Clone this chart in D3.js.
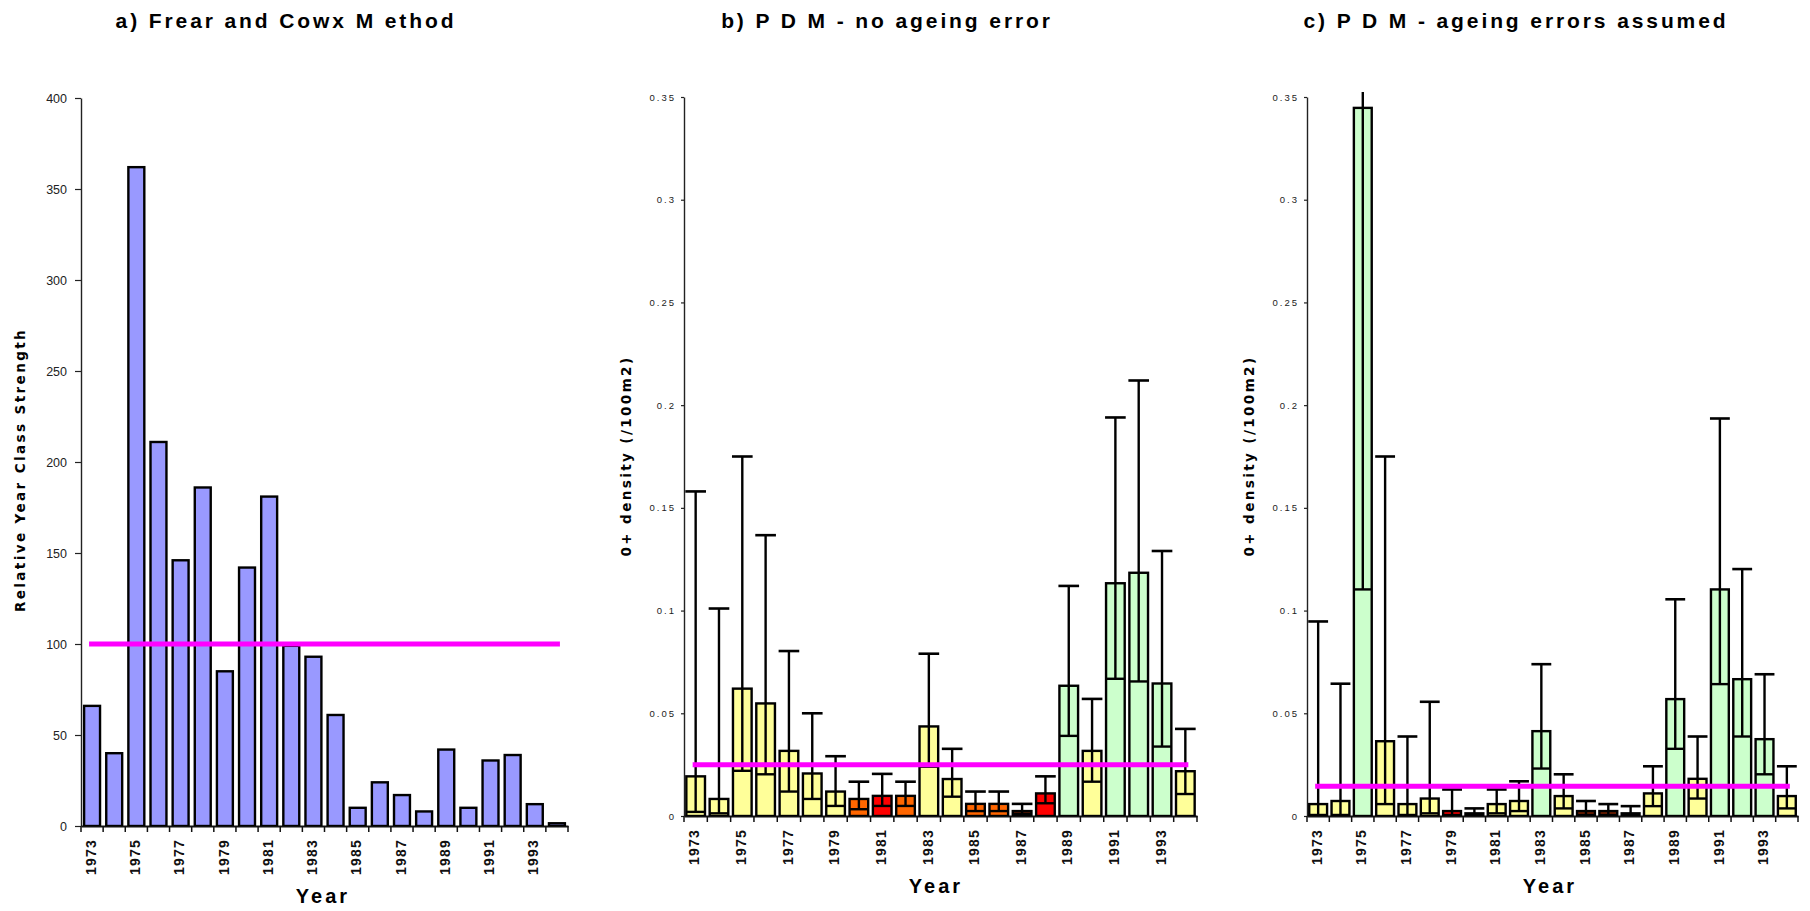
<!DOCTYPE html>
<html>
<head>
<meta charset="utf-8">
<script src="https://cdn.jsdelivr.net/npm/d3@7"></script>
<style>
  body { margin: 0; background: #fff; }
  svg { display: block; }
  .title { font-family: "Liberation Sans", Arial, sans-serif; font-weight: bold; font-size: 21px; letter-spacing: 2.9px; }
  .xlab { font-family: "Liberation Sans", Arial, sans-serif; font-weight: bold; font-size: 20px; letter-spacing: 3px; }
  .ylab { font-family: "DejaVu Sans", sans-serif; font-weight: bold; font-size: 13.5px; letter-spacing: 2.4px; }
  .yr { font-family: "Liberation Sans", Arial, sans-serif; font-weight: bold; font-size: 14px; letter-spacing: 1.2px; }
</style>
</head>
<body>
<div id="graph"></div>
<script>
'use strict';

// categories
const years = [1973, 1974, 1975, 1976, 1977, 1978, 1979, 1980, 1981, 1982, 1983,
               1984, 1985, 1986, 1987, 1988, 1989, 1990, 1991, 1992, 1993, 1994];
const yearLabels = [1973, 1975, 1977, 1979, 1981, 1983, 1985, 1987, 1989, 1991, 1993];

// a) Frear and Cowx
const classStrength = [66, 40, 362, 211, 146, 186, 85, 142, 181, 99, 93,
                       61, 10, 24, 17, 8, 42, 10, 36, 39, 12, 1.5];
const classMean = 100;
const ticksA = [0, 50, 100, 150, 200, 250, 300, 350, 400];

// b) PDM - no ageing error
const densB = [0.0193, 0.0083, 0.062, 0.0548, 0.0317, 0.0207, 0.0119, 0.0083, 0.0098, 0.0098, 0.0436,
               0.018, 0.0059, 0.0059, 0.0024, 0.011, 0.0634, 0.0317, 0.1133, 0.1184, 0.0645, 0.0218];
const lowB  = [0.002, 0.0013, 0.022, 0.0203, 0.0119, 0.0083, 0.0049, 0.0033, 0.0049, 0.0049, 0.024,
               0.0094, 0.0024, 0.0024, 0.001, 0.0062, 0.039, 0.0167, 0.0668, 0.0655, 0.0338, 0.0107];
const highB = [0.158, 0.101, 0.175, 0.1367, 0.0803, 0.05, 0.0291, 0.0167, 0.0205, 0.0167, 0.079,
               0.0327, 0.0119, 0.0119, 0.0059, 0.0193, 0.112, 0.057, 0.194, 0.212, 0.129, 0.0424];
const classB = ['Y', 'Y', 'Y', 'Y', 'Y', 'Y', 'Y', 'O', 'R', 'O', 'Y',
                'Y', 'O', 'O', 'D', 'R', 'G', 'Y', 'G', 'G', 'G', 'Y'];
const meanB = 0.025;

// c) PDM - ageing errors assumed
const densC = [0.0058, 0.0073, 0.3447, 0.0364, 0.0058, 0.0085, 0.0024, 0.0013, 0.0058, 0.0073, 0.0413,
               0.0097, 0.0024, 0.0024, 0.0013, 0.011, 0.0569, 0.0181, 0.1103, 0.0666, 0.0374, 0.0097];
const lowC  = [0.0005, 0.0005, 0.1103, 0.0058, 0.0005, 0.0013, 0.0005, 0.0005, 0.0013, 0.0024, 0.0231,
               0.0037, 0.0005, 0.0005, 0.0005, 0.0048, 0.0327, 0.0085, 0.0642, 0.0387, 0.0203, 0.0037];
const highC = [0.0947, 0.0644, 0.38, 0.175, 0.0387, 0.0556, 0.0129, 0.0037, 0.0129, 0.0169, 0.0739,
               0.0203, 0.0073, 0.0058, 0.0048, 0.0242, 0.1055, 0.0387, 0.1935, 0.1202, 0.069, 0.0242];
const classC = ['Y', 'Y', 'G', 'Y', 'Y', 'Y', 'R', 'D', 'Y', 'Y', 'G',
                'Y', 'D', 'D', 'D', 'Y', 'G', 'Y', 'G', 'G', 'G', 'Y'];
const meanC = 0.0145;
const ticksD = [0, 0.05, 0.1, 0.15, 0.2, 0.25, 0.3, 0.35];

const classColors = { G: '#CCFFCC', Y: '#FFFF99', O: '#FF6600', R: '#FF0000', D: '#7A2000' };

const svg = d3.select('#graph').append('svg')
    .attr('width', 1810)
    .attr('height', 911);

function makeLabels(p) {
  svg.append('text').attr('class', 'title')
      .attr('x', p.titleX).attr('y', 28)
      .attr('text-anchor', 'middle')
      .text(p.title);
  svg.append('text').attr('class', 'xlab')
      .attr('x', p.yearX).attr('y', p.yearY)
      .attr('text-anchor', 'middle')
      .text('Year');
  svg.append('text').attr('class', 'ylab')
      .attr('transform', `translate(${p.ylabX}, ${p.ylabY})rotate(-90)`)
      .attr('text-anchor', 'middle')
      .attr('dominant-baseline', 'middle')
      .text(p.ylab);
}

function drawAxes(p) {
  const x = d3.scaleBand().domain(years).range([p.x0, p.x1]).padding(0);
  const y = d3.scaleLinear().domain(p.domain).range([p.y0, p.yTop]);

  // y axis
  const yAxis = d3.axisLeft(y)
      .tickValues(p.ticks)
      .tickSize(p.tickLen)
      .tickSizeOuter(0)
      .tickFormat(p.fmt);
  const gy = svg.append('g')
      .attr('transform', `translate(${p.x0}, 0)`)
      .call(yAxis);
  gy.select('.domain').attr('stroke', '#222').attr('stroke-width', 1.4);
  gy.selectAll('.tick line').attr('stroke', '#222').attr('stroke-width', 1.2);
  gy.selectAll('.tick text')
      .attr('fill', '#222')
      .style('font-family', '"Liberation Sans", Arial, sans-serif')
      .style('font-size', p.tickFont)
      .style('letter-spacing', p.tickSpacing)
      .attr('x', -(p.tickLen + p.tickGap));

  // x axis (labels on odd years, ticks on band edges)
  const xAxis = d3.axisBottom(x)
      .tickValues(yearLabels)
      .tickSize(0)
      .tickSizeOuter(0);
  const gx = svg.append('g')
      .attr('transform', `translate(0, ${p.y0})`)
      .call(xAxis);
  gx.select('.domain').attr('stroke', '#111').attr('stroke-width', 2);
  gx.selectAll('.tick text')
      .attr('class', 'yr')
      .attr('fill', '#111')
      .attr('transform', 'rotate(-90)')
      .attr('text-anchor', 'end')
      .attr('dominant-baseline', 'middle')
      .attr('x', -p.yrGap)
      .attr('y', 0)
      .attr('dy', 0);

  const edges = years.map(d => x(d)).concat([p.x1]);
  svg.append('g').selectAll('line')
      .data(edges)
      .enter()
      .append('line')
      .attr('x1', d => d).attr('x2', d => d)
      .attr('y1', p.y0).attr('y2', p.y0 + 6)
      .attr('stroke', '#111')
      .attr('stroke-width', 1.5);

  return { x: x, y: y };
}

function plotBars(map, p) {
  const x = map.x, y = map.y;
  const bw = x.bandwidth() * p.barFrac;
  const cx = d => x(d) + x.bandwidth() / 2;

  const clipId = 'clip' + p.id;
  svg.append('clipPath').attr('id', clipId)
    .append('rect')
      .attr('x', p.x0).attr('y', p.yTop - 5)
      .attr('width', p.x1 - p.x0).attr('height', p.y0 - p.yTop + 5);

  const g = svg.append('g').attr('clip-path', `url(#${clipId})`);

  g.selectAll('.bar')
      .data(years)
      .enter()
      .append('rect')
      .attr('class', 'bar')
      .attr('x', d => cx(d) - bw / 2)
      .attr('y', (d, i) => y(p.values[i]))
      .attr('width', bw)
      .attr('height', (d, i) => y(0) - y(p.values[i]))
      .attr('fill', (d, i) => p.fill(i))
      .attr('stroke', '#000')
      .attr('stroke-width', 2.4);

  if (p.low) {
    const eb = g.selectAll('.err')
        .data(years)
        .enter()
        .append('g')
        .attr('class', 'err');
    eb.append('line')
        .attr('x1', cx).attr('x2', cx)
        .attr('y1', (d, i) => y(p.low[i]))
        .attr('y2', (d, i) => y(p.high[i]))
        .attr('stroke', '#000').attr('stroke-width', 2.4);
    eb.append('line')
        .attr('x1', d => cx(d) - bw / 2).attr('x2', d => cx(d) + bw / 2)
        .attr('y1', (d, i) => y(p.low[i]))
        .attr('y2', (d, i) => y(p.low[i]))
        .attr('stroke', '#000').attr('stroke-width', 2.4);
    eb.append('line')
        .attr('x1', d => cx(d) - bw / 2 - 1).attr('x2', d => cx(d) + bw / 2 + 1)
        .attr('y1', (d, i) => y(p.high[i]))
        .attr('y2', (d, i) => y(p.high[i]))
        .attr('stroke', '#000').attr('stroke-width', 2.6);
  }

  // mean line
  svg.append('line')
      .attr('x1', cx(years[0]) - 3)
      .attr('x2', cx(years[years.length - 1]) + 3)
      .attr('y1', y(p.mean)).attr('y2', y(p.mean))
      .attr('stroke', '#FF00FF')
      .attr('stroke-width', 5);
}

const fmtD = d => d === 0 ? '0' : String(+d.toFixed(2));

const panels = [
  {
    id: 'a', title: 'a) Frear and Cowx M ethod', titleX: 286,
    ylab: 'Relative Year Class Strength', ylabX: 21, ylabY: 470,
    yearX: 323, yearY: 903,
    x0: 81, x1: 568, y0: 826, yTop: 98, domain: [0, 400],
    ticks: ticksA, fmt: d3.format('d'), tickLen: 6, tickGap: 8, tickFont: '12.5px', tickSpacing: '0px',
    yrGap: 13, barFrac: 0.72,
    values: classStrength, fill: () => '#9999FF', mean: classMean
  },
  {
    id: 'b', title: 'b) P D M  - no ageing error', titleX: 887,
    ylab: '0+ density (/100m2)', ylabX: 627, ylabY: 456,
    yearX: 936, yearY: 893,
    x0: 684, x1: 1197, y0: 816, yTop: 97, domain: [0, 0.35],
    ticks: ticksD, fmt: fmtD, tickLen: 3, tickGap: 5, tickFont: '9.5px', tickSpacing: '2px',
    yrGap: 13, barFrac: 0.8,
    values: densB, low: lowB, high: highB, fill: i => classColors[classB[i]], mean: meanB
  },
  {
    id: 'c', title: 'c) P D M  - ageing errors assumed', titleX: 1516,
    ylab: '0+ density (/100m2)', ylabX: 1250, ylabY: 456,
    yearX: 1550, yearY: 893,
    x0: 1307, x1: 1798, y0: 816, yTop: 97, domain: [0, 0.35],
    ticks: ticksD, fmt: fmtD, tickLen: 3, tickGap: 5, tickFont: '9.5px', tickSpacing: '2px',
    yrGap: 13, barFrac: 0.8,
    values: densC, low: lowC, high: highC, fill: i => classColors[classC[i]], mean: meanC
  }
];

panels.forEach(p => {
  makeLabels(p);
  const map = drawAxes(p);
  plotBars(map, p);
});
</script>
</body>
</html>
